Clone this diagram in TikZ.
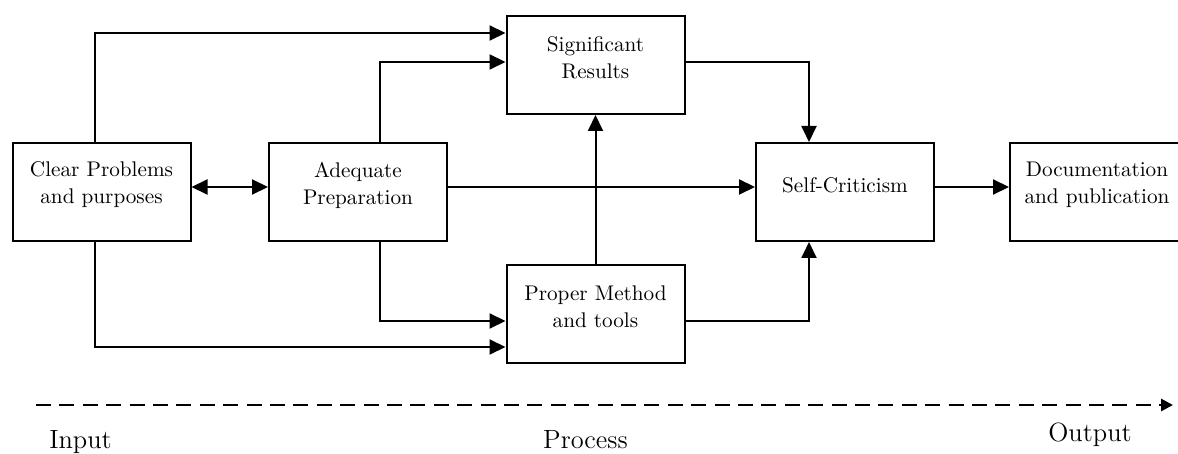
\documentclass[tikz,border=0pt]{standalone}
\usetikzlibrary{arrows.meta}

\tikzset{
  blk/.style={draw, line width=1pt, minimum width=89pt, minimum height=49pt, inner sep=0pt},
  txt/.style={align=center, font=\fontsize{10.6}{13.5}\selectfont, yshift=3.5pt},
  arr/.style={line width=1pt, -{Triangle[length=8pt,width=7.5pt]}},
  arrboth/.style={line width=1pt, {Triangle[length=8pt,width=7.5pt]}-{Triangle[length=8pt,width=7.5pt]}},
  timeline/.style={line width=1.4pt, dash pattern=on 7.5pt off 4.2pt, -{Triangle[length=6pt,width=6pt]}},
  axislbl/.style={font=\fontsize{13.2}{15}\selectfont, anchor=base}
}

\begin{document}
\begin{tikzpicture}[x=0.5pt,y=-0.5pt]
\clip (0,0) rectangle (1178,454);
% boxes
\node[blk,label={[txt]center:{Clear Problems\\and purposes}}] (cp) at (101.5,192) {};
\node[blk,label={[txt]center:{Adequate\\Preparation}}] (ap) at (358,192) {};
\node[blk,label={[txt]center:{Significant\\Results}}] (sr) at (595.5,65) {};
\node[blk,label={[txt]center:{Proper Method\\and tools}}] (pm) at (595.5,314) {};
\node[blk,label={[txt]center:{Self-Criticism}}] (sc) at (845,192) {};
\node[blk,minimum width=87pt,label={[txt]center:{Documentation\\and publication}}] (dc) at (1097,192) {};
% connectors
\draw[arr] ([xshift=-3.5pt]cp.north) |- ([yshift=16pt]sr.west);
\draw[arr] ([xshift=11pt]ap.north) |- ([yshift=1.5pt]sr.west);
\draw[arr] ([xshift=-3.5pt]cp.south) |- ([yshift=-16.5pt]pm.west);
\draw[arr] ([xshift=11pt]ap.south) |- ([yshift=-3.5pt]pm.west);
\draw[arrboth] ([yshift=2.5pt]cp.east) -- ([yshift=2.5pt]ap.west);
\draw[arr] ([yshift=2.5pt]ap.east) -- ([yshift=2.5pt]sc.west);
\draw[arr] ([yshift=2.5pt]sc.east) -- ([yshift=2.5pt]dc.west);
\draw[arr] (pm) -- (sr);
\draw[arr] ([yshift=1.5pt]sr.east) -| ([xshift=-18pt]sc.north);
\draw[arr] ([yshift=-3.5pt]pm.east) -| ([xshift=-18pt]sc.south);
% time line
\coordinate (ts) at (36,405);
\coordinate (te) at (1173,405);
\draw[timeline] (ts) -- (te);
\node[axislbl] (in) at (80.5,448) {Input};
\node[axislbl] (pr) at (585.5,448) {Process};
\node[axislbl] (out) at (1090,441) {Output};
\end{tikzpicture}
\end{document}
